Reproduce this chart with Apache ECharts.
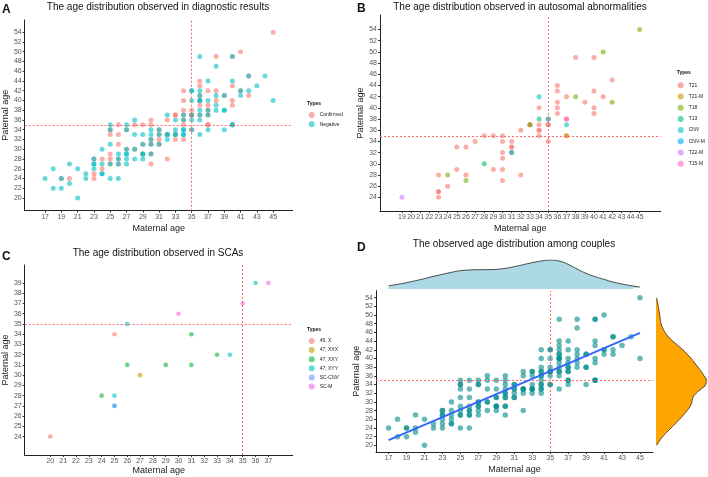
<!DOCTYPE html>
<html>
<head>
<meta charset="utf-8">
<script src="https://cdn.jsdelivr.net/npm/echarts@6/dist/echarts.min.js"></script>
<style>
  html,body{margin:0;padding:0;background:#fff;}
  #main{width:708px;height:477px;}
</style>
</head>
<body>
<div id="main"></div>
<script>
// ---- panel A: diagnostic results [maternal, paternal]
var confirmed = [
  [19,24],[20,24],[23,28],[23,25],[23,24],[24,28],[24,26],
  [25,34],[25,33],[25,29],[25,28],[25,27],
  [26,35],[26,33],[26,31],[26,28],[26,27],
  [27,34],[27,30],[28,35],[28,30],
  [29,35],[29,31],[29,29],
  [30,36],[30,35],[30,32],[30,31],[30,29],[30,27],
  [31,34],[31,33],[31,32],[31,31],
  [32,36],[32,33],[32,28],
  [33,37],[33,37],[33,33],[33,32],
  [34,42],[34,40],[34,38],[34,37],[34,36],[34,35],[34,32],
  [35,38],[35,37],[35,37],[35,34],
  [36,44],[36,43],[36,41],[36,40],[36,39],[36,37],
  [37,42],[37,39],[37,38],[37,37],[37,35],[37,35],
  [38,49],[38,42],[38,40],[39,41],
  [40,49],[40,43],[40,40],[40,39],[40,35],
  [41,50],[41,42],[42,45],[42,41],[45,54]
];
var negative = [
  [17,24],[18,26],[18,22],[19,24],[19,22],[20,23],[20,27],[21,20],[21,26],[22,25],[22,24],
  [23,28],[23,27],[23,27],[23,26],[24,30],[24,27],[24,25],[24,25],
  [25,35],[25,34],[25,31],[25,27],[25,24],
  [26,29],[26,28],[26,27],[26,24],
  [27,35],[27,34],[27,30],[27,29],[27,29],[27,28],[27,27],
  [28,36],[28,33],[28,30],[28,28],
  [29,33],[29,31],[29,29],[29,29],[29,28],
  [30,34],[30,33],[30,32],[30,31],[30,29],
  [31,34],[31,33],[31,31],
  [32,37],[32,33],[32,33],[32,32],
  [33,36],[33,34],[33,33],[33,33],
  [34,37],[34,36],[34,34],[34,34],[34,33],[34,33],
  [35,42],[35,42],[35,40],[35,37],[35,36],[35,34],
  [36,49],[36,42],[36,41],[36,40],[36,40],[36,38],[36,37],[36,36],[36,33],
  [37,44],[37,40],[37,38],[37,37],[37,34],
  [38,47],[38,41],[38,39],[38,38],
  [39,41],[39,38],[39,38],[39,34],
  [40,49],[40,44],[40,35],[40,35],
  [41,42],[41,41],[42,45],[42,42],[43,43],[44,45],[45,40]
];

// ---- panel B: autosomal abnormalities
var t21 = [
  [23,28],[23,25],[23,25],[23,24],[24,26],[25,29],[25,33],[26,33],[26,28],[27,34],
  [28,35],[29,35],[29,29],[30,35],[30,34],[30,32],[30,31],[30,29],[30,27],
  [31,34],[31,33],[31,33],[32,36],[32,28],[33,37],[33,37],
  [34,40],[34,37],[34,36],[34,36],[34,35],[35,38],[35,37],[35,37],[35,34],
  [36,44],[36,43],[36,41],[36,40],[36,39],[37,42],[37,38],[37,35],
  [38,49],[39,41],[40,49],[40,43],[40,40],[40,39],[41,42],[42,45]
];
var t21m = [[31,32],[37,35]];
var t18 = [[24,28],[26,27],[33,37],[38,42],[41,50],[42,41],[45,54]];
var t13 = [[28,30],[34,38]];
var cnv = [[34,42],[35,38],[37,37]];
var cnvm = [[31,32]];
var t22m = [[19,24]];
var t15m = [[37,38]];

// ---- panel C: SCAs
var sc45x = [[20,24],[25,34]];
var sc47xxx = [[27,30]];
var sc47xxy = [[24,28],[26,31],[29,31],[31,34],[31,31],[33,32]];
var sc47xyy = [[25,28],[25,27],[26,35],[34,32],[36,39]];
var scCnv = [[25,27]];
var scM = [[30,36],[35,37],[37,39]];

// ---- panel D: all couples, fitted line, marginal densities
var couples = confirmed.concat(negative);
var fitLine = [[17,21.2],[45,45.9]];
var matAges = [17,18,19,20,21,22,23,24,25,26,27,28,29,30,31,32,33,34,35,36,37,38,39,40,41,42,43,44,45];
var matDens = [10,14,19,25,31,38,44,50,55,57,58,58,59,62,67,73,79,84,87,84,74,60,47,37,29,21,15,10,6];
var patAges = [20,21,22,23,24,25,26,27,28,29,30,31,32,33,34,35,36,37,38,39,40,41,42,43,44,45,46,47,48,49,50,51,52,53,54];
var patDens = [2,10,20,32,45,58,70,82,93,102,107,110,120,135,148,150,143,135,125,115,105,93,80,65,50,37,27,20,15,13,11,9,7,4,2];

// ---- ticks
var ticksOdd17 = [17,19,21,23,25,27,29,31,33,35,37,39,41,43,45];
var ticksEven20 = [20,22,24,26,28,30,32,34,36,38,40,42,44,46,48,50,52,54];
var ticksBx = [19,20,21,22,23,24,25,26,27,28,29,30,31,32,33,34,35,36,37,38,39,40,41,42,43,44,45];
var ticksBy = [24,26,28,30,32,34,36,38,40,42,44,46,48,50,52,54];
var ticksCx = [20,21,22,23,24,25,26,27,28,29,30,31,32,33,34,35,36,37];
var ticksCy = [24,25,26,27,28,29,30,31,32,33,34,35,36,37,38,39];

var FONT = 'Liberation Sans, Arial, sans-serif';
var chart = echarts.init(document.getElementById('main'));

function axis(grid, min, max, ticks, name, gap, isY){
  return {
    type:'value', gridIndex:grid, min:min, max:max,
    name:name, nameLocation:'middle', nameGap:gap, nameRotate: isY ? 90 : 0,
    nameTextStyle:{fontSize:9, color:'#1a1a1a', fontFamily:FONT},
    axisLine:{show:true, lineStyle:{color:'#222', width:1}},
    axisTick:{show:true, length:2, customValues:ticks, lineStyle:{color:'#333'}},
    axisLabel:{customValues:ticks, fontSize:7, color:'#555', margin:3, fontFamily:FONT},
    splitLine:{show:false}
  };
}
function refLines(){
  return {silent:true, symbol:'none', animation:false, label:{show:false},
    lineStyle:{color:'#ff5a5a', width:1, type:[2,2], opacity:0.9},
    data:[{xAxis:35},{yAxis:35}]};
}
function pts(name, data, color, gi, size, ml){
  var s = {name:name, type:'scatter', xAxisIndex:gi, yAxisIndex:gi, data:data,
    symbolSize:size, itemStyle:{color:color, opacity:0.6}};
  if (ml) s.markLine = refLines();
  return s;
}
function legend(names, left, top, gap){
  return {orient:'vertical', left:left, top:top, padding:0, itemWidth:6, itemHeight:6,
    itemGap:gap, icon:'circle', selectedMode:false,
    textStyle:{fontSize:5, color:'#222', fontFamily:FONT}, data:names};
}
function ttl(text, left, top, size, bold, align){
  return {text:text, left:left, top:top, padding:0, textAlign:align || 'left',
    textStyle:{fontSize:size, fontWeight: bold ? 'bold' : 'normal', color:'#111', fontFamily:FONT}};
}

var option = {
  animation:false,
  title:[
    ttl('A', 2, 4, 12, true),
    ttl('The age distribution observed in diagnostic results', 158, 2, 10, false, 'center'),
    ttl('B', 357, 3, 12, true),
    ttl('The age distribution observed in autosomal abnormalities', 520, 2, 10, false, 'center'),
    ttl('C', 2, 251, 12, true),
    ttl('The age distribution observed in SCAs', 158, 248, 10, false, 'center'),
    ttl('D', 357, 242, 12, true),
    ttl('The observed age distribution among couples', 514, 239, 10, false, 'center'),
    ttl('Types', 307, 101, 5, true),
    ttl('Types', 676.7, 70, 5, true),
    ttl('Types', 307, 327, 5, true)
  ],
  legend:[
    legend(['Confirmed','Negative'], 308.7, 112, 3.3),
    legend(['T21','T21-M','T18','T13','CNV','CNV-M','T22-M','T15-M'], 677.7, 82.3, 5.2),
    legend(['45, X','47, XXX','47, XXY','47, XYY','SC-CNV','SC-M'], 308.7, 338, 3.1)
  ],
  grid:[
    {left:23.3, top:20, width:269.4, height:190.7},
    {left:380, top:15, width:280.7, height:196},
    {left:22.7, top:265, width:270, height:190},
    {left:376, top:290.7, width:277, height:161.3},
    {left:376, top:260, width:277, height:29},
    {left:656, top:297.7, width:51, height:147.6}
  ],
  xAxis:[
    axis(0, 14.5, 47.4, ticksOdd17, 'Maternal age', 13, false),
    axis(1, 16.6, 47.3, ticksBx, 'Maternal age', 13, false),
    axis(2, 18, 38.9, ticksCx, 'Maternal age', 11, false),
    axis(3, 15.6, 46.45, ticksOdd17, 'Maternal age', 13, false),
    {type:'value', gridIndex:4, min:15.6, max:46.45, show:false},
    {type:'value', gridIndex:5, min:0, max:152, show:false}
  ],
  yAxis:[
    axis(0, 17.4, 56.5, ticksEven20, 'Paternal age', 13, true),
    axis(1, 21.56, 56.6, ticksBy, 'Paternal age', 11, true),
    axis(2, 22.2, 40.76, ticksCy, 'Paternal age', 13, true),
    axis(3, 18.47, 55.6, ticksEven20, 'Paternal age', 13, true),
    {type:'value', gridIndex:4, min:0, max:87, show:false},
    {type:'category', gridIndex:5, data:patAges, boundaryGap:false, show:false}
  ],
  series:[
    pts('Confirmed', confirmed, '#F8766D', 0, 5, true),
    pts('Negative', negative, '#00BFC4', 0, 5),

    pts('T21', t21, '#F8766D', 1, 5, true),
    pts('T21-M', t21m, '#CD9600', 1, 5),
    pts('T18', t18, '#7CAE00', 1, 5),
    pts('T13', t13, '#00BE67', 1, 5),
    pts('CNV', cnv, '#00BFC4', 1, 5),
    pts('CNV-M', cnvm, '#00A9FF', 1, 5),
    pts('T22-M', t22m, '#C77CFF', 1, 5),
    pts('T15-M', t15m, '#FF61CC', 1, 5),

    pts('45, X', sc45x, '#F8766D', 2, 4.6, true),
    pts('47, XXX', sc47xxx, '#B79F00', 2, 4.6),
    pts('47, XXY', sc47xxy, '#00BA38', 2, 4.6),
    pts('47, XYY', sc47xyy, '#00BFC4', 2, 4.6),
    pts('SC-CNV', scCnv, '#619CFF', 2, 4.6),
    pts('SC-M', scM, '#F564E3', 2, 4.6),

    pts('couples', couples, '#008B8B', 3, 5.5, true),
    {type:'line', xAxisIndex:3, yAxisIndex:3, data:fitLine, symbol:'none', z:5,
      lineStyle:{color:'#3366FF', width:2}},
    {type:'line', xAxisIndex:4, yAxisIndex:4, symbol:'none', smooth:true,
      data:matAges.map(function(a, i){ return [a, matDens[i]]; }),
      lineStyle:{color:'#222', width:0.8}, areaStyle:{color:'#ADD8E6', opacity:1}},
    {type:'line', xAxisIndex:5, yAxisIndex:5, symbol:'none', smooth:true, data:patDens,
      lineStyle:{color:'#222', width:0.8}, areaStyle:{color:'#FFA500', opacity:1}}
  ]
};
chart.setOption(option);
</script>
</body>
</html>
